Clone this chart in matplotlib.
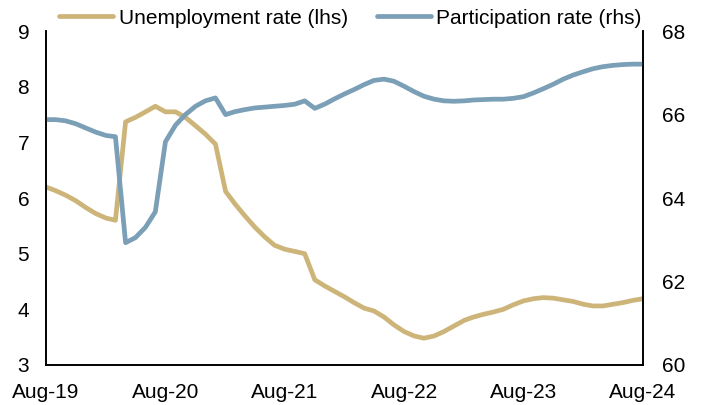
import numpy as np
import pandas as pd
import matplotlib
matplotlib.use("Agg")
from matplotlib import pyplot as plt
import matplotlib.dates as mdates

plt.rcParams['font.family'] = ['Liberation Sans', 'DejaVu Sans']

# monthly data, Aug-19 to Aug-24
months = pd.date_range("2019-08-01", periods=61, freq="MS")

unemployment = [6.2, 6.13, 6.05, 5.95, 5.83, 5.72, 5.64, 5.6, 7.37, 7.45,
                7.55, 7.65, 7.55, 7.55, 7.45, 7.3, 7.15, 6.97, 6.12, 5.9,
                5.68, 5.48, 5.3, 5.15, 5.08, 5.04, 5.0, 4.53, 4.42, 4.32,
                4.22, 4.12, 4.02, 3.97, 3.86, 3.72, 3.6, 3.52, 3.48, 3.52,
                3.6, 3.7, 3.8, 3.86, 3.91, 3.95, 4.0, 4.08, 4.15, 4.19,
                4.21, 4.2, 4.17, 4.14, 4.09, 4.06, 4.06, 4.09, 4.12, 4.16,
                4.19]

participation = [65.88, 65.88, 65.85, 65.78, 65.68, 65.58, 65.5, 65.47, 62.93, 63.05,
                 63.3, 63.67, 65.35, 65.75, 66.0, 66.2, 66.33, 66.4, 66.0, 66.07,
                 66.12, 66.16, 66.18, 66.2, 66.22, 66.25, 66.33, 66.15, 66.25, 66.38,
                 66.5, 66.6, 66.72, 66.82, 66.85, 66.8, 66.68, 66.55, 66.44, 66.37,
                 66.33, 66.32, 66.33, 66.35, 66.36, 66.37, 66.37, 66.39, 66.43, 66.52,
                 66.62, 66.73, 66.85, 66.95, 67.03, 67.1, 67.15, 67.18, 67.2, 67.21,
                 67.21]

tan = "#CDB57A"
blue = "#7A9FB6"

fig = plt.figure(figsize=(7.05, 4.05), dpi=100)
ax = fig.add_axes([0.065, 0.099, 0.847, 0.824])
ax2 = ax.twinx()

l1, = ax.plot(months, unemployment, color=tan, lw=3.4, solid_capstyle="round",
              solid_joinstyle="round", label="Unemployment rate (lhs)")
l2, = ax2.plot(months, participation, color=blue, lw=3.4, solid_capstyle="round",
               solid_joinstyle="round", label="Participation rate (rhs)")

ax.set_ylim(3, 9)
ax2.set_ylim(60, 68)
ax.set_yticks(range(3, 10))
ax2.set_yticks(range(60, 69, 2))
ax.set_xlim(months[0], months[-1])
ax.set_xticks(months[::12])
ax.xaxis.set_major_formatter(mdates.DateFormatter("%b-%y"))

for a in (ax, ax2):
    a.spines["top"].set_visible(False)
    a.tick_params(length=0, labelsize=15)
    for s in ("left", "right", "bottom"):
        a.spines[s].set_linewidth(1.2)
ax.tick_params(axis="y", pad=12)
ax.tick_params(axis="x", pad=13)
ax2.tick_params(axis="y", pad=14)

fig.legend(handles=[l1, l2], loc="upper center", bbox_to_anchor=(0.497, 1.025),
           ncol=2, frameon=False, fontsize=15, handlelength=2.6,
           columnspacing=1.4, handletextpad=0.25)

fig.savefig("out.png", dpi=100)
